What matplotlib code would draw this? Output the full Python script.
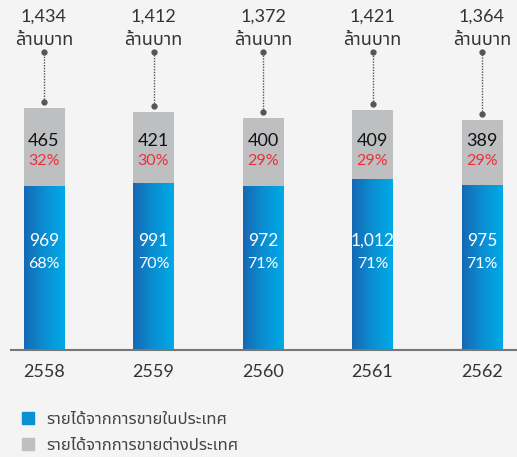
import numpy as np
import matplotlib
matplotlib.use("Agg")
import matplotlib.pyplot as plt
from matplotlib import font_manager
from matplotlib.ft2font import FT2Font
from matplotlib.colors import LinearSegmentedColormap
from matplotlib.patches import Patch

years = ["2558", "2559", "2560", "2561", "2562"]
domestic = [969, 991, 972, 1012, 975]
foreign = [465, 421, 400, 409, 389]
totals = [1434, 1412, 1372, 1421, 1364]
domestic_pct = ["68%", "70%", "71%", "71%", "71%"]
foreign_pct = ["32%", "30%", "29%", "29%", "29%"]
unit_label = "ล้านบาท"
legend_labels = ["รายได้จากการขายในประเทศ", "รายได้จากการขายต่างประเทศ"]


def find_thai_font():
    # collect installed families that actually have Thai glyphs
    found = []
    for f in font_manager.fontManager.ttflist:
        try:
            if ord("ก") in FT2Font(f.fname).get_charmap():
                found.append(f.name)
        except Exception:
            pass
    for pref in ["Noto Sans Thai", "Noto Sans Thai UI", "Sarabun", "Prompt", "Kanit",
                 "Loma", "Garuda", "Waree"]:
        if pref in found:
            return pref
    return found[0] if found else "DejaVu Sans"


thai_font = find_thai_font()
num_font = ["Lato", "DejaVu Sans"]
plt.rcParams["font.family"] = [thai_font, "Lato", "DejaVu Sans"]

W, H = 517, 457
BASE = 350          # pixel row of the baseline
SCALE = 242 / 1434  # pixels per unit
SPACING = 109.5
FIRST = 44


def yv(py):
    return (BASE - py) / SCALE


fig = plt.figure(figsize=(W / 100, H / 100), dpi=100)
fig.patch.set_facecolor("#f4f4f4")
ax = fig.add_axes([0, 0, 1, 1])
ax.set_facecolor("#f4f4f4")

x = np.arange(len(years))
width = 41 / SPACING
blue_cmap = LinearSegmentedColormap.from_list("blue", ["#1768b3", "#0a8fd2", "#00aae8"])
grad = np.linspace(0, 1, 256).reshape(1, -1)

for i in x:
    ax.imshow(grad, cmap=blue_cmap, aspect="auto", interpolation="bicubic",
              extent=(i - width / 2, i + width / 2, 0, domestic[i]), zorder=2)
ax.bar(x, foreign, bottom=domestic, width=width, color="#bebfc1", zorder=2)

for i in x:
    top = yv(52)
    low = totals[i] + 6 / SCALE
    ax.plot([i, i], [low, top], color="#555555", lw=1, ls=(0, (1, 1)), zorder=3)
    ax.plot([i, i], [low, top], "o", color="#555555", ms=3.5, zorder=3)
    ax.text(i, yv(17), f"{totals[i]:,}", ha="center", va="center", fontsize=13,
            color="#333333", family=num_font)
    ax.text(i, yv(40), unit_label, ha="center", va="center", fontsize=13,
            color="#333333", fontweight="light")
    ax.text(i, yv(141), str(foreign[i]), ha="center", va="center", fontsize=13,
            color="#111111", family=num_font, zorder=4)
    ax.text(i, yv(161), foreign_pct[i], ha="center", va="center", fontsize=11.5,
            color="#e8303a", family=num_font, zorder=4)
    ax.text(i, yv(241), f"{domestic[i]:,}", ha="center", va="center", fontsize=12.5,
            color="white", family=num_font, zorder=4)
    ax.text(i, yv(264), domestic_pct[i], ha="center", va="center", fontsize=11.5,
            color="white", family=num_font, zorder=4)
    ax.text(i, yv(372), years[i], ha="center", va="center", fontsize=13,
            color="#333333", family=num_font)

x_left = -FIRST / SPACING
x_right = (W - FIRST) / SPACING
ax.plot([(11 - FIRST) / SPACING, x_right], [0, 0], color="#777777", lw=1.5, zorder=3)

ax.set_xlim(x_left, x_right)
ax.set_ylim(yv(H), yv(0))
ax.axis("off")

handles = [Patch(color="#0a8fd2"), Patch(color="#bebfc1")]
fig.legend(handles, legend_labels, loc="upper left", bbox_to_anchor=(10 / W, 1 - 400 / H),
           frameon=False, prop={"size": 12, "weight": "light"}, labelcolor="#444444",
           handlelength=0.72, handleheight=0.72, handletextpad=0.75, labelspacing=0.6,
           borderpad=0.2)

fig.savefig("out.png", dpi=100, facecolor=fig.get_facecolor())
